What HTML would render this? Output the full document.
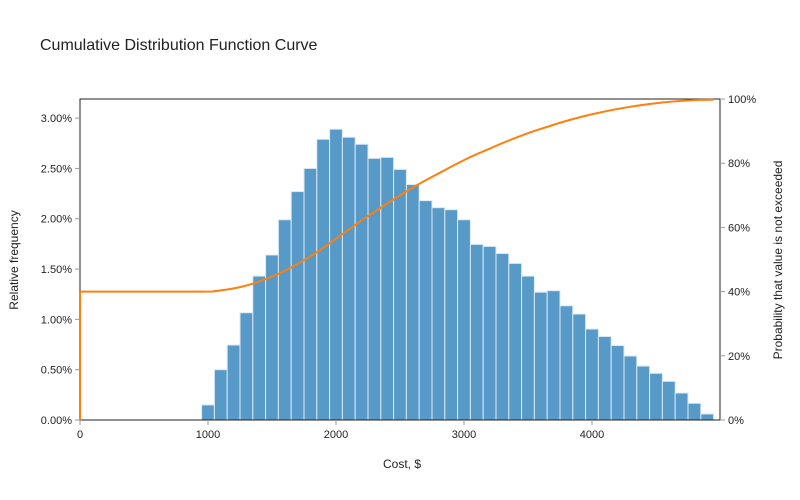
<!DOCTYPE html>
<html><head><meta charset="utf-8"><style>
body{margin:0;background:#fff;}
svg{display:block;font-family:"Liberation Sans",Arial,sans-serif;}
</style></head><body>
<svg id="chart" width="800" height="500">
<text x="40" y="50" font-size="16" fill="#222">Cumulative Distribution Function Curve</text>
<g id="bars"></g>
<g id="axes"></g>
<path id="cdf" fill="none" stroke="#ff7f0e" stroke-width="2"></path>
<text x="402" y="468" font-size="12" text-anchor="middle" fill="#222">Cost, $</text>
<text transform="translate(18,260) rotate(-90)" font-size="12" text-anchor="middle" fill="#222">Relative frequency</text>
<text transform="translate(782,260) rotate(-90)" font-size="12" text-anchor="middle" fill="#222">Probability that value is not exceeded</text>
</svg>
<script>
const binCenters = [1000,1100,1200,1300,1400,1500,1600,1700,1800,1900,2000,2100,2200,2300,2400,2500,2600,2700,2800,2900,3000,3100,3200,3300,3400,3500,3600,3700,3800,3900,4000,4100,4200,4300,4400,4500,4600,4700,4800,4900];
const frequencies = [0.15,0.50,0.745,1.066,1.43,1.64,1.99,2.27,2.50,2.79,2.89,2.81,2.74,2.60,2.61,2.49,2.34,2.18,2.11,2.09,1.99,1.745,1.725,1.655,1.556,1.43,1.27,1.285,1.135,1.053,0.904,0.83,0.74,0.636,0.536,0.464,0.384,0.268,0.166,0.06];
const leftTicks = [0,0.5,1,1.5,2,2.5,3];
const rightTicks = [0,20,40,60,80,100];
const xTicks = [0,1000,2000,3000,4000];
const cdfStart = 40;

const NS='http://www.w3.org/2000/svg';
const L=80,R=720,T=99,B=420;
const x=v=>L+(v/5000)*(R-L);
const yL=v=>B-(v/3.19)*(B-T);
const yR=v=>B-(v/100)*(B-T);
function mk(tag,attrs,parent){const e=document.createElementNS(NS,tag);for(const k in attrs)e.setAttribute(k,attrs[k]);parent.appendChild(e);return e;}
const bars=document.getElementById('bars');
const bw=x(100)-x(0);
binCenters.forEach((c,i)=>{
  const r=mk('rect',{x:x(c)-bw/2,y:yL(frequencies[i]),width:bw,height:B-yL(frequencies[i]),fill:'#5799c7',stroke:'#dbe9f4','stroke-width':1},bars);
  
  
});
const ax=document.getElementById('axes');
const frame=mk('rect',{x:L,y:T,width:R-L,height:B-T,fill:'none',stroke:'#222','stroke-width':1},ax);


leftTicks.forEach(v=>{
  const yy=yL(v);
  mk('line',{x1:L-5,x2:L,y1:yy,y2:yy,stroke:'#999'},ax);
  const t=mk('text',{x:L-8,y:yy+4,'font-size':11,'text-anchor':'end',fill:'#222'},ax);
  t.textContent=v.toFixed(2)+'%';
  
  
});
rightTicks.forEach(v=>{
  const yy=yR(v);
  mk('line',{x1:R,x2:R+5,y1:yy,y2:yy,stroke:'#999'},ax);
  const t=mk('text',{x:R+8,y:yy+4,'font-size':11,fill:'#222'},ax);
  t.textContent=v+'%';
  
  
});
xTicks.forEach(v=>{
  const xx=x(v);
  mk('line',{x1:xx,x2:xx,y1:B,y2:B+5,stroke:'#999'},ax);
  const t=mk('text',{x:xx,y:B+18,'font-size':11,'text-anchor':'middle',fill:'#222'},ax);
  t.textContent=v;
  
  
});
// CDF points: start at 40% at 0, flat to first bin edge, then cumulative sums
const pts=[[0,cdfStart],[binCenters[0]-50,cdfStart]];
let cum=cdfStart;
binCenters.forEach((c,i)=>{cum+=frequencies[i];pts.push([c+50,Math.min(cum,100)]);});
const P=pts.map(p=>[x(p[0]),yR(p[1])]);
let d='M'+x(0)+','+B+'L'+P[0][0]+','+P[0][1]+'L'+P[1][0]+','+P[1][1];
for(let i=1;i<P.length-1;i++){
  const p0=P[i-1],p1=P[i],p2=P[i+1],p3=P[Math.min(i+2,P.length-1)];
  const c1=[p1[0]+(p2[0]-p0[0])/6,p1[1]+(p2[1]-p0[1])/6];
  const c2=[p2[0]-(p3[0]-p1[0])/6,p2[1]-(p3[1]-p1[1])/6];
  d+='C'+c1[0]+','+c1[1]+' '+c2[0]+','+c2[1]+' '+p2[0]+','+p2[1];
}
document.getElementById('cdf').setAttribute('d',d);
</script>
</body></html>
